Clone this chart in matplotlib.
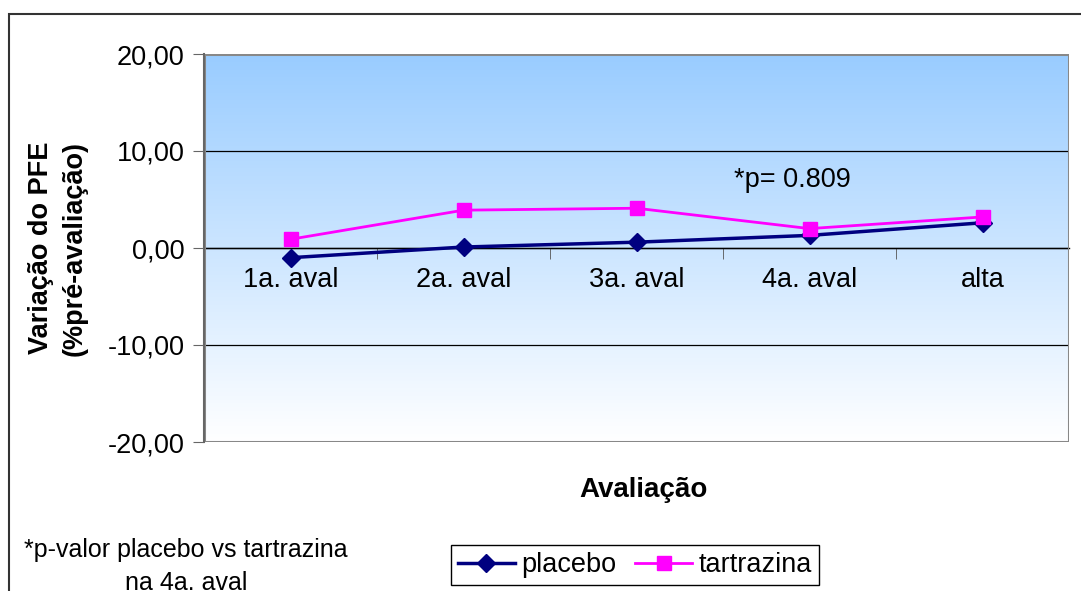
import numpy as np
import matplotlib
matplotlib.use("Agg")
import matplotlib.pyplot as plt
from matplotlib.colors import LinearSegmentedColormap
from matplotlib.patches import Rectangle

plt.rcParams['font.family'] = ['Liberation Sans', 'DejaVu Sans']

# variação do PFE (% pré-avaliação) por avaliação
avaliacoes = ["1a. aval", "2a. aval", "3a. aval", "4a. aval", "alta"]
placebo = [-1.0, 0.1, 0.6, 1.3, 2.6]
tartrazina = [0.9, 3.9, 4.1, 2.0, 3.2]
y_ticks = [-20, -10, 0, 10, 20]
p_valor = "*p= 0.809"

W, H = 1081, 591
FS = 19.5
fig = plt.figure(figsize=(W / 100, H / 100), dpi=100)

# moldura externa do gráfico
fig.patches.append(Rectangle((9 / W, -0.1), 1.2, 1 - 14 / H + 0.1,
                             transform=fig.transFigure, fill=False,
                             edgecolor="#333333", linewidth=1.5))

ax = fig.add_axes([204 / W, 1 - 442 / H, 865 / W, 388 / H])
x = np.arange(len(avaliacoes))
ax.set_xlim(-0.5, len(avaliacoes) - 0.5)
ax.set_ylim(-20, 20)

# fundo em degradê azul -> branco
grad = LinearSegmentedColormap.from_list("fundo", ["#ffffff", "#99ccff"])
ax.imshow(np.linspace(0, 1, 256).reshape(-1, 1), cmap=grad, aspect="auto",
          extent=(0, 1, 0, 1), transform=ax.transAxes, origin="lower",
          zorder=0)

for y in y_ticks:
    ax.axhline(y, color="black", linewidth=0.9, zorder=1)

ax.plot(x, placebo, color="#000080", linewidth=2.5, marker="D",
        markersize=9, label="placebo", zorder=3)
ax.plot(x, tartrazina, color="#ff00ff", linewidth=2, marker="s",
        markersize=10, label="tartrazina", zorder=4)

ax.text(2.9, 7.0, p_valor, ha="center", va="center", fontsize=FS)

# eixo das categorias cruzando em zero
for s in ["top", "right", "left"]:
    ax.spines[s].set_visible(False)
ax.spines["bottom"].set_position(("data", 0))
ax.spines["bottom"].set_color("black")
ax.spines["bottom"].set_linewidth(1)
ax.add_patch(Rectangle((0, 0), 1, 1, transform=ax.transAxes, fill=False,
                       edgecolor="#888888", linewidth=2.2, zorder=5))
ax.plot([0, 0], [0, 1], transform=ax.transAxes, color="#666666",
        linewidth=1.5, zorder=6, clip_on=False)

ax.set_xticks(x)
ax.set_xticklabels(avaliacoes, fontsize=FS)
ax.set_xticks(x[:-1] + 0.5, minor=True)
ax.tick_params(axis="x", which="major", length=0, pad=14)
ax.tick_params(axis="x", which="minor", length=8, color="#555555")

ax.set_yticks(y_ticks)
ax.set_yticklabels([f"{v:.2f}".replace(".", ",") for v in y_ticks],
                   fontsize=FS)
ax.tick_params(axis="y", length=8, color="#666666", pad=6)

fig.text(58 / W, 1 - 248 / H, "Variação do PFE\n(%pré-avaliação)",
         rotation=90, ha="center", va="center", fontsize=FS,
         fontweight="bold", linespacing=1.35)
fig.text(643 / W, 1 - 490 / H, "Avaliação", ha="center", va="center",
         fontsize=FS + 0.5, fontweight="bold")

fig.text(186 / W, 1 - 550 / H, "*p-valor placebo vs tartrazina",
         ha="center", va="center", fontsize=FS - 1.5)
fig.text(186 / W, 1 - 583 / H, "na 4a. aval", ha="center", va="center",
         fontsize=FS - 1.5)

fig.legend(loc="center", bbox_to_anchor=(635 / W, 1 - 565 / H), ncol=2,
           fontsize=FS, frameon=True, fancybox=False, edgecolor="black",
           framealpha=1, handlelength=2.1, handletextpad=0.25,
           columnspacing=0.7, borderpad=0.25, borderaxespad=0)

fig.savefig("out.png", dpi=100)
